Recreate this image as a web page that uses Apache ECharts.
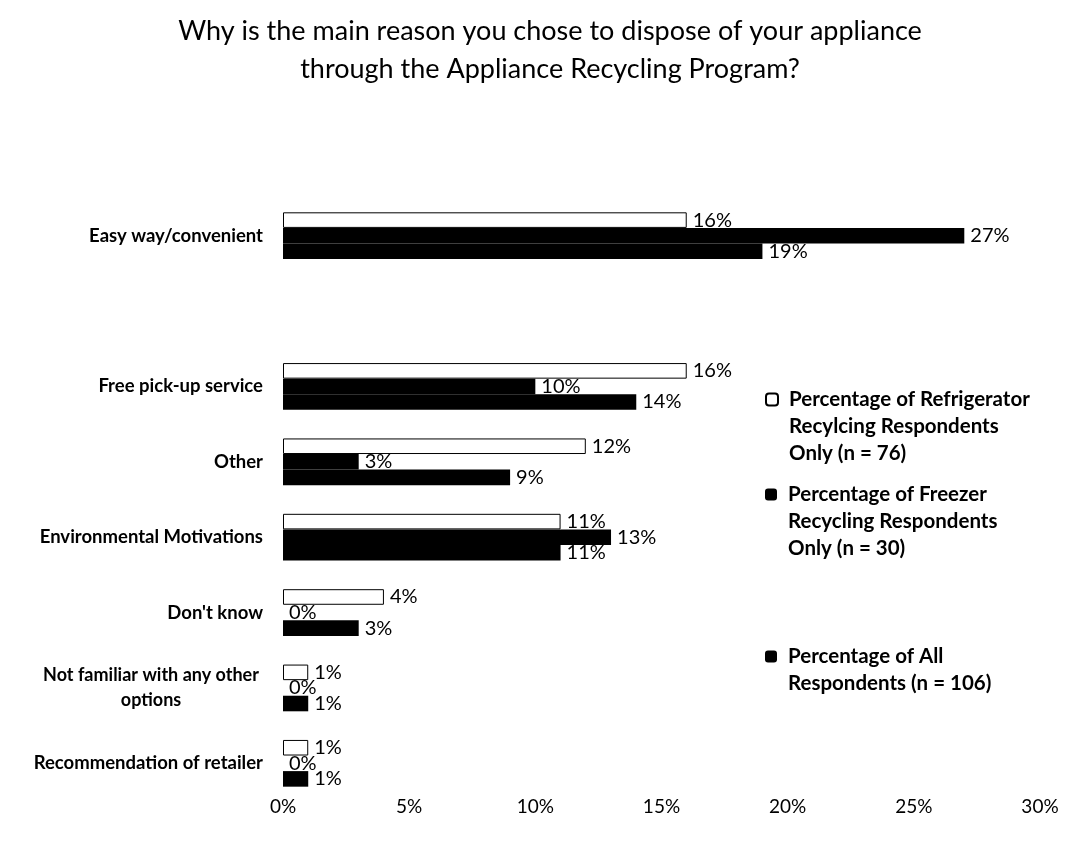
<!DOCTYPE html>
<html>
<head>
<meta charset="utf-8">
<title>Appliance Recycling Program</title>
<script src="https://cdn.jsdelivr.net/npm/echarts@6/dist/echarts.min.js"></script>
<style>
  html, body { margin: 0; padding: 0; background: #fff; }
  #chart { width: 1083px; height: 848px; }
</style>
</head>
<body>
<div id="chart"></div>
<script>
// categories top to bottom ('' is the empty row under the first group)
const reasons = [
  'Easy way/convenient',
  '',
  'Free pick-up service',
  'Other',
  'Environmental Motivations',
  "Don't know",
  'Not familiar with any other options',
  'Recommendation of retailer'
]

// percentages
const fridgeOnly = [16, null, 16, 12, 11, 4, 1, 1]
const freezerOnly = [27, null, 10, 3, 13, 0, 0, 0]
const allRespondents = [19, null, 14, 9, 11, 3, 1, 1]

const seriesNames = [
  'Percentage of Refrigerator\nRecylcing Respondents\nOnly (n = 76)',
  'Percentage of Freezer\nRecycling Respondents\nOnly (n = 30)',
  'Percentage of All\nRespondents (n = 106)'
]

const xTicks = [0, 5, 10, 15, 20, 25, 30]

const font = 'Lato, "Open Sans", sans-serif'

const myChart = echarts.init(document.getElementById('chart'))

const barLabel = {
  show: true,
  position: 'right',
  distance: 6,
  formatter: (p) => p.value + '%',
  color: '#000',
  fontFamily: font,
  fontSize: 20
}

// one legend per entry so the gaps can differ like the original
const makeLegend = (name, top) => {
  const lines = name.split('\n').length
  return {
    data: [name],
    orient: 'vertical',
    left: 765,
    top: top,
    padding: 0,
    itemWidth: 12,
    itemHeight: 12,
    selectedMode: false,
    // blank lines above keep the icon level with the first line
    formatter: (n) => '\n'.repeat(lines - 1) + n,
    textStyle: {
      fontFamily: font,
      fontSize: 20.5,
      fontWeight: 'bold',
      color: '#000',
      lineHeight: 27,
      padding: [0, 0, 0, 6]
    }
  }
}

const option = {
  backgroundColor: '#fff',
  title: {
    text: 'Why is the main reason you chose to dispose of your appliance\nthrough the Appliance Recycling Program?',
    left: 545,
    top: 7,
    textAlign: 'center',
    textStyle: {
      fontFamily: font,
      fontSize: 27,
      fontWeight: 'normal',
      color: '#000',
      lineHeight: 38
    }
  },
  legend: [
    makeLegend(seriesNames[0], 332),
    makeLegend(seriesNames[1], 427),
    makeLegend(seriesNames[2], 616)
  ],
  grid: {
    left: 283,
    right: 43,
    top: 198,
    bottom: 47
  },
  xAxis: {
    type: 'value',
    min: xTicks[0],
    max: xTicks[xTicks.length - 1],
    interval: 5,
    splitLine: { show: false },
    axisLine: { show: false },
    axisTick: { show: false },
    axisLabel: {
      formatter: '{value}%',
      color: '#000',
      fontFamily: font,
      fontSize: 19,
      margin: -4
    }
  },
  yAxis: {
    type: 'category',
    inverse: true,
    data: reasons,
    axisLine: { show: false },
    axisTick: { show: false },
    axisLabel: {
      color: '#000',
      fontFamily: font,
      fontSize: 18.5,
      fontWeight: 'bold',
      margin: 20,
      formatter: (v) => {
        if (v === 'Not familiar with any other options') {
          return '{w|Not familiar with any other}\n{w|options}'
        }
        return v
      },
      rich: {
        w: {
          width: 224,
          align: 'center',
          fontFamily: font,
          fontSize: 18,
          fontWeight: 'bold',
          color: '#000',
          lineHeight: 25
        }
      }
    }
  },
  series: [
    {
      name: seriesNames[0],
      type: 'bar',
      data: fridgeOnly,
      barGap: '0%',
      barCategoryGap: '38%',
      itemStyle: { color: '#fff', borderColor: '#000', borderWidth: 1 },
      label: barLabel
    },
    {
      name: seriesNames[1],
      type: 'bar',
      data: freezerOnly,
      itemStyle: { color: '#000' },
      label: barLabel
    },
    {
      name: seriesNames[2],
      type: 'bar',
      data: allRespondents,
      itemStyle: { color: '#000' },
      label: barLabel
    }
  ]
}

myChart.setOption(option)
</script>
</body>
</html>
